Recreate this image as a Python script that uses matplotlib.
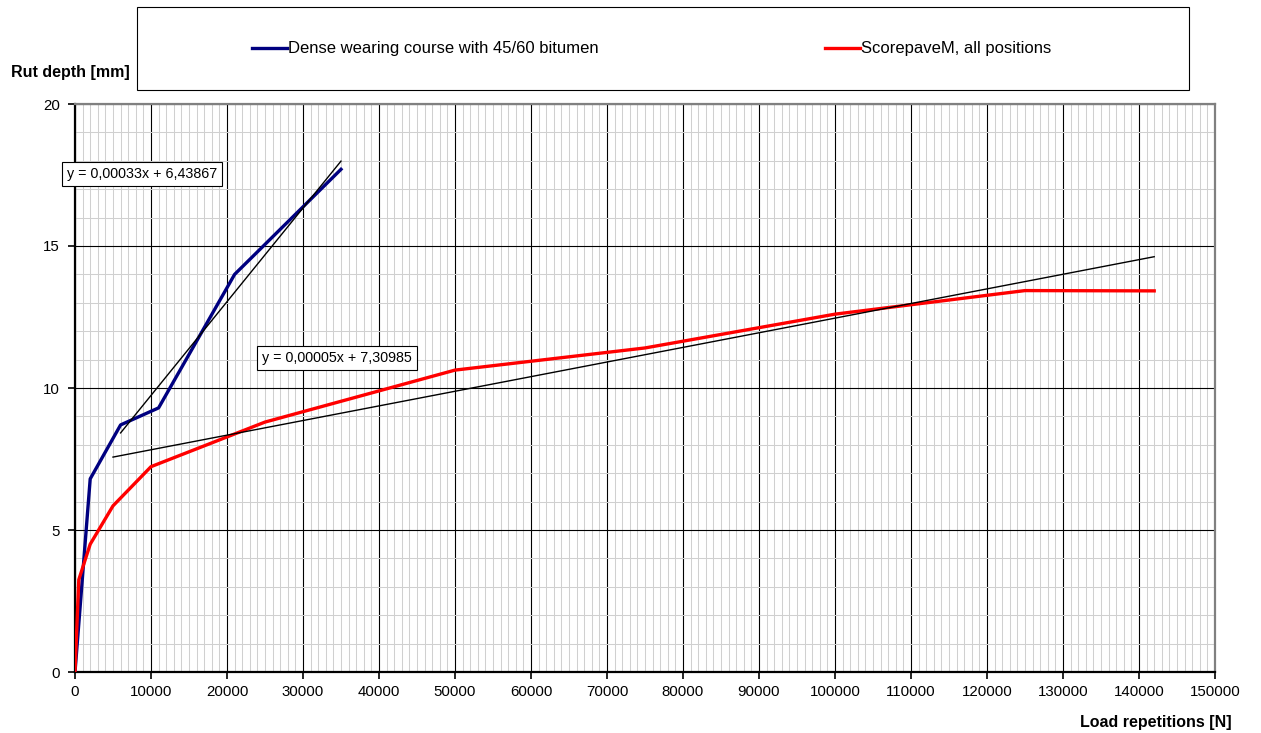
import numpy as np
import matplotlib
matplotlib.use("Agg")
import matplotlib.pyplot as plt
from matplotlib.patches import Rectangle
from matplotlib.ticker import MultipleLocator

plt.rcParams['font.family'] = ['Liberation Sans', 'DejaVu Sans']
plt.rcParams['font.size'] = 10

# rut depth measurements
dense_n = [0, 2000, 6000, 11000, 21000, 35000]
dense_rut = [0, 6.8, 8.7, 9.3, 14.0, 17.7]
score_n = [0, 500, 2000, 5000, 10000, 25000, 50000, 75000, 100000, 125000, 142000]
score_rut = [0, 3.25, 4.5, 5.85, 7.23, 8.8, 10.63, 11.41, 12.6, 13.43, 13.42]

# linear trend lines (slope, intercept, x-range)
dense_trend = (0.00033, 6.43867, 6000, 35000)
score_trend = (0.0000515, 7.30985, 5000, 142000)

labels = ["Dense wearing course with 45/60 bitumen", "ScorepaveM, all positions"]

W, H = 1261, 733
fig = plt.figure(figsize=(W / 100, H / 100), dpi=100)
ax = fig.add_axes([75 / W, 1 - 672 / H, 1140 / W, 568 / H])

ax.set_xlim(0, 150000)
ax.set_ylim(0, 20)
ax.xaxis.set_major_locator(MultipleLocator(10000))
ax.xaxis.set_minor_locator(MultipleLocator(1000))
ax.yaxis.set_major_locator(MultipleLocator(5))
ax.yaxis.set_minor_locator(MultipleLocator(1))
ax.grid(which='minor', color='#d0d0d0', lw=0.75)
ax.grid(which='major', color='black', lw=0.8)
ax.set_axisbelow(True)
ax.tick_params(which='minor', length=0)
ax.tick_params(which='major', direction='out', length=5, width=1.2, labelsize=10.8)
ax.tick_params(axis='y', pad=6)
ax.tick_params(axis='x', pad=4)

for s in ['left', 'bottom']:
    ax.spines[s].set_color('black')
    ax.spines[s].set_linewidth(1.6)
for s in ['top', 'right']:
    ax.spines[s].set_color('#808080')
    ax.spines[s].set_linewidth(1.6)

l1, = ax.plot(dense_n, dense_rut, color='#000080', lw=2.4, label=labels[0], zorder=3)
l2, = ax.plot(score_n, score_rut, color='#ff0000', lw=2.4, label=labels[1], zorder=3)

for slope, icpt, x0, x1 in (dense_trend, score_trend):
    xs = np.array([x0, x1])
    ax.plot(xs, slope * xs + icpt, color='black', lw=1.0, zorder=4)


def eq_text(slope, icpt):
    return ("y = %.5fx + %.5f" % (slope, icpt)).replace('.', ',')


box = dict(boxstyle='square,pad=0.35', fc='white', ec='black', lw=0.8)
ax.text(-1100, 17.55, eq_text(*dense_trend[:2]), ha='left', va='center',
        fontsize=10.3, bbox=box, zorder=5, clip_on=False)
ax.text(24600, 11.04, eq_text(*score_trend[:2]), ha='left', va='center',
        fontsize=10.3, bbox=box, zorder=5)

# legend frame across the top
fig.patches.append(Rectangle((137 / W, 1 - 90 / H), 1052 / W, 83 / H,
                             transform=fig.transFigure, fc='white', ec='black', lw=0.8))
fig.legend(handles=[l1, l2], loc='center left', bbox_to_anchor=(252 / W, 1 - 49 / H),
           frameon=False, ncol=2, handlelength=2.1, handletextpad=0.05,
           columnspacing=13.6, borderpad=0, borderaxespad=0, fontsize=12)

fig.text(130 / W, 1 - 73 / H, "Rut depth [mm]", ha='right', va='center',
         fontsize=11.5, fontweight='bold')
fig.text(1232 / W, 1 - 722 / H, "Load repetitions [N]", ha='right', va='center',
         fontsize=11.5, fontweight='bold')

fig.savefig("out.png", dpi=100)
